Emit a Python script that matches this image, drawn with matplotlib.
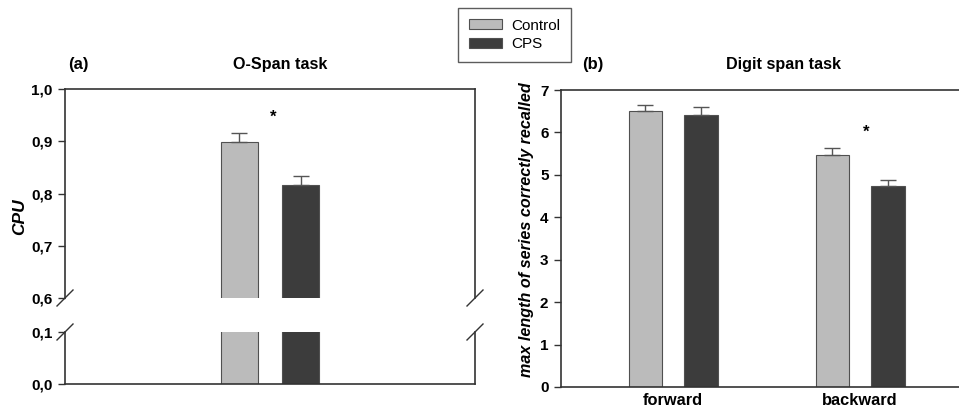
import matplotlib
matplotlib.use("Agg")
import matplotlib.pyplot as plt
from matplotlib.patches import Patch

# ---- data ----
groups = ["Control", "CPS"]
ospan_means = [0.898, 0.816]
ospan_err = [0.018, 0.018]
ospan_upper_ticks = [0.6, 0.7, 0.8, 0.9, 1.0]
ospan_upper_labels = ["0,6", "0,7", "0,8", "0,9", "1,0"]
ospan_lower_ticks = [0.0, 0.1]
ospan_lower_labels = ["0,0", "0,1"]

digit_cats = ["forward", "backward"]
digit_control = [6.50, 5.47]
digit_control_err = [0.14, 0.16]
digit_cps = [6.40, 4.73]
digit_cps_err = [0.20, 0.14]
digit_ticks = [0, 1, 2, 3, 4, 5, 6, 7]

colors = ["#bbbbbb", "#3c3c3c"]
edge = "#505050"
spine_c = "#333333"
FONT = "Liberation Sans"
plt.rcParams["font.family"] = [FONT, "DejaVu Sans"]

W, H = 959, 408
fig = plt.figure(figsize=(W / 100, H / 100), dpi=100)

def fx(px):
    return px / W

def fy(py):
    return 1 - py / H

off = 0.149
bw = 0.18
TICK_FS = 11

# ---- left panel (broken axis) ----
axU = fig.add_axes([fx(65), fy(298), fx(475) - fx(65), fy(89) - fy(298)])
axL = fig.add_axes([fx(65), fy(384), fx(475) - fx(65), fy(332) - fy(384)])

for ax in (axU, axL):
    for i in range(2):
        x = [-off, off][i]
        ax.bar(x, ospan_means[i], width=bw, color=colors[i], edgecolor=edge, linewidth=0.8, zorder=2)
    ax.set_xlim(-1, 1)
    ax.set_xticks([])
    for s in ax.spines.values():
        s.set_color(spine_c)
        s.set_linewidth(1.2)
    ax.tick_params(axis="y", direction="out", length=5, width=1, color=spine_c, pad=4)

for i in range(2):
    x = [-off, off][i]
    axU.errorbar(x, ospan_means[i], yerr=[[0], [ospan_err[i]]], fmt="none",
                 ecolor="#555555", elinewidth=1.0, capsize=6, capthick=1.0, zorder=3)

axU.set_ylim(0.6, 1.0)
axU.set_yticks(ospan_upper_ticks)
axU.set_yticklabels(ospan_upper_labels, fontsize=TICK_FS, fontweight="bold")
axU.spines["bottom"].set_visible(False)

axL.set_ylim(0.0, 0.1)
axL.set_yticks(ospan_lower_ticks)
axL.set_yticklabels(ospan_lower_labels, fontsize=TICK_FS, fontweight="bold")
axL.spines["top"].set_visible(False)

# break marks
dxp, dyp = 8, 8
for ax, yv in ((axU, 0.0), (axL, 1.0)):
    bb = ax.get_position()
    w_px = bb.width * W
    h_px = bb.height * H
    for xv in (0.0, 1.0):
        ax.plot([xv - dxp / w_px, xv + dxp / w_px], [yv - dyp / h_px, yv + dyp / h_px],
                transform=ax.transAxes, color=spine_c, lw=1.0, clip_on=False)

axU.text(0.015, 0.946, "*", ha="center", va="center", fontsize=12, fontweight="bold")
fig.text(fx(20), fy(217), "CPU", rotation=90, ha="center", va="center",
         fontsize=12.5, fontweight="bold", fontstyle="italic")

fig.text(fx(68), fy(65), "(a)", ha="left", va="center", fontsize=12, fontweight="bold")
fig.text(fx(280), fy(64), "O-Span task", ha="center", va="center", fontsize=11.6, fontweight="bold")

# ---- right panel ----
axR = fig.add_axes([fx(561), fy(387), 2.2 * 187 / W, fy(90) - fy(387)])
xs = list(range(len(digit_cats)))
axR.bar([x - off for x in xs], digit_control, width=bw, color=colors[0], edgecolor=edge, linewidth=0.8, zorder=2)
axR.bar([x + off for x in xs], digit_cps, width=bw, color=colors[1], edgecolor=edge, linewidth=0.8, zorder=2)
axR.errorbar([x - off for x in xs], digit_control, yerr=[[0] * len(xs), digit_control_err], fmt="none",
             ecolor="#555555", elinewidth=1.0, capsize=6, capthick=1.0, zorder=3)
axR.errorbar([x + off for x in xs], digit_cps, yerr=[[0] * len(xs), digit_cps_err], fmt="none",
             ecolor="#555555", elinewidth=1.0, capsize=6, capthick=1.0, zorder=3)
axR.set_xlim(-0.6, 1.6)
axR.set_ylim(0, 7)
axR.set_yticks(digit_ticks)
axR.set_yticklabels([str(t) for t in digit_ticks], fontsize=TICK_FS, fontweight="bold")
axR.set_xticks(xs)
axR.set_xticklabels(digit_cats, fontsize=11.8, fontweight="bold")
axR.tick_params(axis="x", length=0, pad=4)
axR.tick_params(axis="y", direction="out", length=5, width=1, color=spine_c, pad=4)
for s in axR.spines.values():
    s.set_color(spine_c)
    s.set_linewidth(1.2)
axR.text(1.03, 6.0, "*", ha="center", va="center", fontsize=12, fontweight="bold")
fig.text(fx(526), fy(230), "max length of series correctly recalled", rotation=90,
         ha="center", va="center", fontsize=11.6, fontweight="bold", fontstyle="italic")

fig.text(fx(582), fy(64), "(b)", ha="left", va="center", fontsize=12, fontweight="bold")
fig.text(fx(783), fy(64), "Digit span task", ha="center", va="center", fontsize=11.6, fontweight="bold")

# ---- legend ----
handles = [Patch(facecolor=colors[i], edgecolor=edge, linewidth=0.8, label=groups[i]) for i in range(2)]
leg = fig.legend(handles=handles, loc="upper left", bbox_to_anchor=(fx(458), fy(8)),
                 fontsize=11, frameon=True, fancybox=False, edgecolor=spine_c,
                 handlelength=2.2, handleheight=0.6, handletextpad=0.6,
                 borderpad=0.7, labelspacing=0.3, borderaxespad=0)
leg.get_frame().set_linewidth(1.0)

fig.savefig("out.png", dpi=100)
